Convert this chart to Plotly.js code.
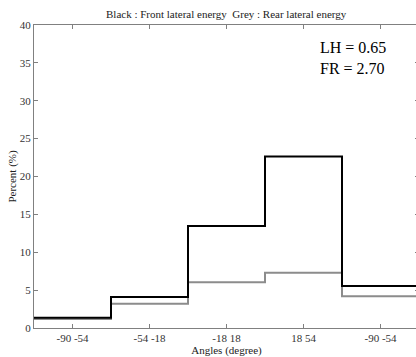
<!DOCTYPE html>
<html>
<head>
<meta charset="utf-8">
<script src="https://cdn.plot.ly/plotly-3.0.1.min.js"></script>
<style>
html,body{margin:0;padding:0;overflow:hidden;background:#fff;width:416px;height:357px;}
#chart{width:420px;height:357px;}
</style>
</head>
<body>
<div id="chart"></div>
<script>
const binLabels = ["-90 -54", "-54 -18", "-18 18", "18 54", "-90 -54"];
const frontValues = [1.35, 4.08, 13.45, 22.65, 5.55];
const rearValues = [1.2, 3.2, 6.05, 7.3, 4.2];

const edges = binLabels.map((_, i) => i).concat([binLabels.length]);
const centers = binLabels.map((_, i) => i + 0.5);
const stepY = v => v.concat([v[v.length - 1]]);

const serif = "Liberation Serif";

const traces = [
  {x: edges, y: stepY(rearValues), type: "scatter", mode: "lines",
   line: {shape: "hv", color: "#8c8c8c", width: 2}, hoverinfo: "skip"},
  {x: edges, y: stepY(frontValues), type: "scatter", mode: "lines",
   line: {shape: "hv", color: "#000000", width: 2}, hoverinfo: "skip"}
];

const axisCommon = {
  showline: true, linecolor: "#808080", linewidth: 1, mirror: "ticks",
  ticks: "inside", ticklen: 4, tickcolor: "#808080", tickwidth: 1,
  showgrid: false, zeroline: false,
  tickfont: {family: serif, size: 11, color: "#333"}
};

const layout = {
  width: 420, height: 357,
  margin: {l: 34, r: 1, t: 25, b: 29, pad: 0},
  paper_bgcolor: "#fff", plot_bgcolor: "#fff",
  showlegend: false,
  font: {family: serif},
  title: {text: "Black : Front lateral energy  Grey : Rear lateral energy",
          font: {family: serif, size: 11, color: "#222"},
          x: 0.5385, xanchor: "center", y: 0.96, yanchor: "middle"},
  xaxis: Object.assign({}, axisCommon, {
    range: [0, binLabels.length], tickmode: "array", tickvals: centers, ticktext: binLabels,
    title: {text: "Angles (degree)", font: {family: serif, size: 11, color: "#222"}, standoff: 2}
  }),
  yaxis: Object.assign({}, axisCommon, {
    range: [0, 40], dtick: 5, tick0: 0,
    title: {text: "Percent (%)", font: {family: serif, size: 11, color: "#222"}, standoff: 0}
  }),
  annotations: [
    {text: "LH = 0.65", xref: "paper", yref: "paper", x: 0.737, y: 0.927,
     xanchor: "left", yanchor: "middle", showarrow: false,
     font: {family: serif, size: 16, color: "#000"}},
    {text: "FR = 2.70", xref: "paper", yref: "paper", x: 0.737, y: 0.858,
     xanchor: "left", yanchor: "middle", showarrow: false,
     font: {family: serif, size: 16, color: "#000"}}
  ]
};

Plotly.newPlot("chart", traces, layout, {staticPlot: true, displayModeBar: false});
</script>
</body>
</html>
